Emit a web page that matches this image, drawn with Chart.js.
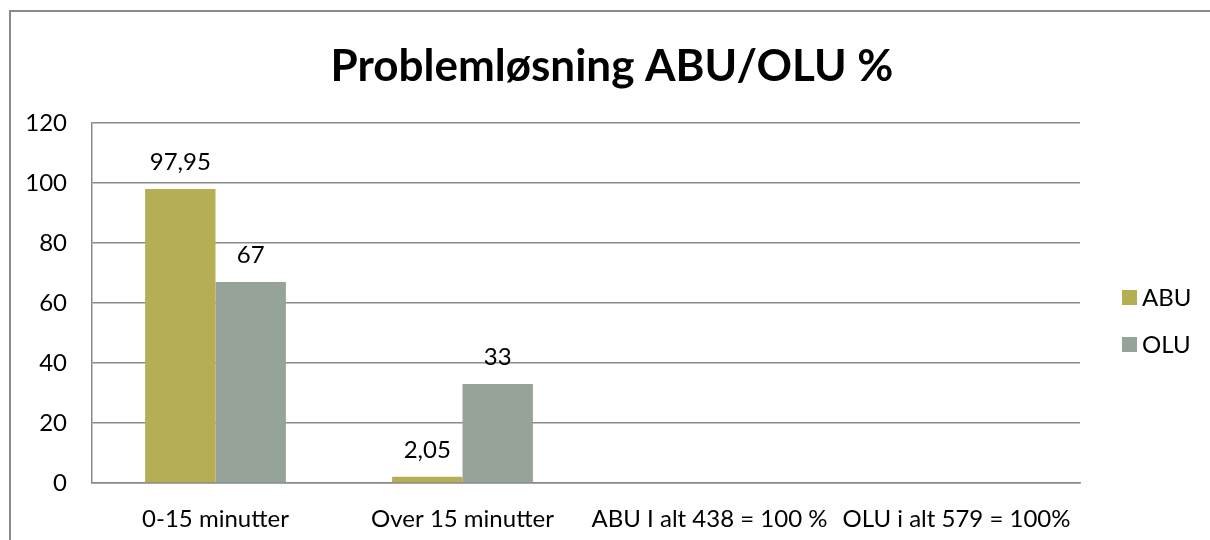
<!DOCTYPE html>
<html>
<head>
<meta charset="utf-8">
<script src="https://cdn.jsdelivr.net/npm/chart.js@4"></script>
<style>
  html, body { margin: 0; padding: 0; background: #fff; }
  #wrap { width: 1210px; height: 540px; }
</style>
</head>
<body>
<div id="wrap"><canvas id="chart" width="1210" height="540"></canvas></div>
<script>
'use strict';

const categories = ['0-15 minutter', 'Over 15 minutter', 'ABU I alt 438 = 100 %', 'OLU i alt 579 = 100%'];
const abu = [97.95, 2.05, null, null];
const olu = [67, 33, null, null];
const yTicks = [0, 20, 40, 60, 80, 100, 120];

const fmt = v => String(v).replace('.', ',');

// grey frame round the chart, like the office export
const frame = {
  id: 'frame',
  beforeDraw(chart) {
    const c = chart.ctx;
    c.save();
    c.strokeStyle = '#8a8a8a';
    c.lineWidth = 2;
    c.beginPath();
    c.moveTo(10, 560);
    c.lineTo(10, 11);
    c.lineTo(1220, 11);
    c.stroke();
    c.restore();
  }
};

const valueLabels = {
  id: 'valueLabels',
  afterDatasetsDraw(chart) {
    const c = chart.ctx;
    c.save();
    c.font = '24px Lato';
    c.fillStyle = '#000';
    c.textAlign = 'center';
    c.textBaseline = 'middle';
    chart.data.datasets.forEach((ds, i) => {
      chart.getDatasetMeta(i).data.forEach((bar, j) => {
        if (ds.data[j] == null) return;
        c.fillText(fmt(ds.data[j]), bar.x, bar.y - 27);
      });
    });
    c.restore();
  }
};

// legend on the right, placed like the original (off-centre from the plot)
const sideLegend = {
  id: 'sideLegend',
  afterDraw(chart) {
    const c = chart.ctx;
    const x = chart.chartArea.right + 42;
    let y = 297;
    c.save();
    c.font = '24px Lato';
    c.textBaseline = 'middle';
    chart.data.datasets.forEach(ds => {
      c.fillStyle = ds.backgroundColor;
      c.fillRect(x, y - 7, 15, 15);
      c.fillStyle = '#000';
      c.fillText(ds.label, x + 20, y + 1);
      y += 47;
    });
    c.restore();
  }
};

Chart.defaults.font.family = 'Lato';
Chart.defaults.font.size = 24;
Chart.defaults.color = '#000';

new Chart(document.getElementById('chart').getContext('2d'), {
  type: 'bar',
  data: {
    labels: categories,
    datasets: [
      {label: 'ABU', data: abu, backgroundColor: '#b5ae55', borderWidth: 0},
      {label: 'OLU', data: olu, backgroundColor: '#95a398', borderWidth: 0}
    ]
  },
  options: {
    responsive: false,
    animation: false,
    categoryPercentage: 0.57,
    barPercentage: 1,
    layout: {padding: {left: 20, right: 6, top: 40, bottom: 0}},
    scales: {
      x: {
        grid: {display: false},
        border: {color: '#8a8a8a', width: 1.5},
        ticks: {padding: 14, maxRotation: 0, autoSkip: false},
        afterFit(axis) { axis.height = 57; }
      },
      y: {
        min: 0, max: 120,
        afterBuildTicks(axis) { axis.ticks = yTicks.map(v => ({value: v})); },
        grid: {color: '#8a8a8a', lineWidth: 1.5, drawTicks: false},
        border: {color: '#8a8a8a', width: 1.5},
        ticks: {padding: 25},
        afterFit(axis) { axis.width = 72; }
      },
      // empty axis that keeps room for the legend on the right
      side: {
        position: 'right',
        grid: {display: false},
        border: {display: false},
        ticks: {display: false},
        afterFit(axis) { axis.width = 124; }
      }
    },
    plugins: {
      title: {display: true, text: 'Problemløsning ABU/OLU %', font: {size: 44, weight: 'bold'}, padding: {top: 0, bottom: 30}},
      legend: {display: false},
      tooltip: {enabled: false}
    }
  },
  plugins: [frame, valueLabels, sideLegend]
});
</script>
</body>
</html>
